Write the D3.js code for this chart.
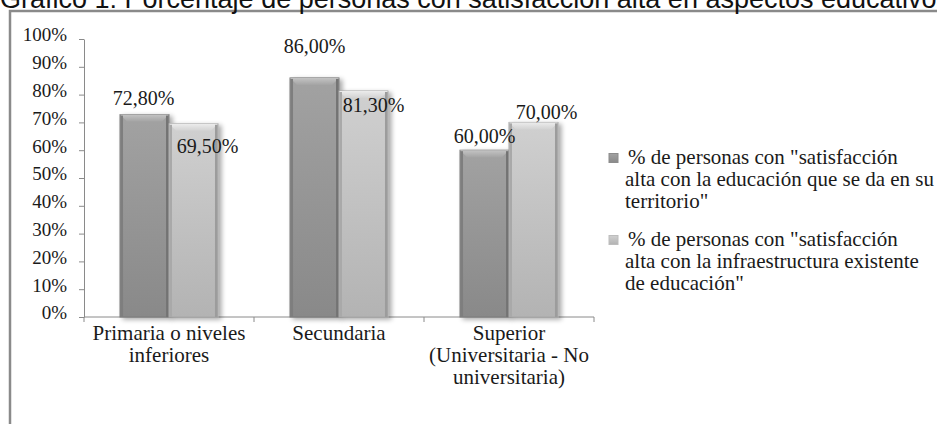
<!DOCTYPE html>
<html>
<head>
<meta charset="utf-8">
<title>grafico 1</title>
<style>
  body { margin: 0; background: #fff; overflow: hidden; }
  text { font-family: "Liberation Serif", "Times New Roman", Times, "DejaVu Serif", "Noto Serif", serif; fill: #1a1a1a; }
</style>
</head>
<body>
<svg width="937" height="424"></svg>
<script src="https://d3js.org/d3.v7.min.js"></script>
<script>

    var title = "Gráfico 1: Porcentaje de personas con satisfacción alta en aspectos educativos";

    var categories = [
        ["Primaria o niveles", "inferiores"],
        ["Secundaria"],
        ["Superior", "(Universitaria - No", "universitaria)"]
    ];

    var seriesNames = [
        ["% de personas con \"satisfacción", "alta con la educación que se da en su", "territorio\""],
        ["% de personas con \"satisfacción", "alta con la infraestructura existente", "de educación\""]
    ];

    var educacion = [0.728, 0.86, 0.60];
    var infraestructura = [0.695, 0.813, 0.70];

    var yTicks = [0, 0.1, 0.2, 0.3, 0.4, 0.5, 0.6, 0.7, 0.8, 0.9, 1];

    // where excel dropped each data label, relative to the top centre of its bar
    var labelNudge = [
        [[-1, -10], [14, 29]],
        [[0, -25], [10, 21]],
        [[0, -7], [13, -3]]
    ];

    var serif = "'Liberation Serif', 'Times New Roman', Times, 'DejaVu Serif', serif";

    var svg = d3.select("svg"),
        margin = { left: 84, right: 343, top: 39, bottom: 107 },
        width = +svg.attr("width") - margin.left - margin.right,
        height = +svg.attr("height") - margin.top - margin.bottom;

    var defs = svg.append("defs");

    function grad(id, top, bottom) {
        var g = defs.append("linearGradient").attr("id", id)
            .attr("x1", 0).attr("y1", 0).attr("x2", 0).attr("y2", 1);
        g.append("stop").attr("offset", "0%").attr("stop-color", top);
        g.append("stop").attr("offset", "100%").attr("stop-color", bottom);
    }
    grad("body0", "#a2a2a2", "#898989");
    grad("body1", "#d0d0d0", "#b3b3b3");
    grad("cap0", "#c4c4c4", "#a4a4a4");
    grad("cap1", "#ececec", "#d2d2d2");

    var shadow = defs.append("filter").attr("id", "shadow")
        .attr("x", "-20%").attr("y", "-10%").attr("width", "150%").attr("height", "130%");
    shadow.append("feGaussianBlur").attr("in", "SourceAlpha").attr("stdDeviation", 2.5);
    shadow.append("feOffset").attr("dx", 3).attr("dy", 2).attr("result", "b");
    shadow.append("feComponentTransfer").append("feFuncA").attr("type", "linear").attr("slope", 0.35);
    var merge = shadow.append("feMerge");
    merge.append("feMergeNode");
    merge.append("feMergeNode").attr("in", "SourceGraphic");

    // chart border, cut off by the page on the right and at the bottom
    svg.append("rect")
        .attr("x", 10).attr("y", 11)
        .attr("width", 960).attr("height", 440)
        .attr("fill", "none")
        .attr("stroke", "#8a8a8a")
        .attr("stroke-width", 2.5);

    svg.append("text")
        .attr("x", 0).attr("y", 8)
        .style("font-family", "'Liberation Sans', Arial, sans-serif")
        .style("font-size", "27px")
        .style("fill", "#111")
        .text(title);

    var g = svg.append("g").attr("transform", "translate(" + margin.left + "," + margin.top + ")");

    var x0 = d3.scaleBand()
        .domain(d3.range(categories.length))
        .range([0, width]);

    var x1 = d3.scaleBand()
        .domain([0, 1])
        .range([0, x0.bandwidth()])
        .paddingOuter(0.735);

    var y = d3.scaleLinear()
        .domain([0, 1])
        .range([height, 0]);

    var yAxis = g.append("g")
        .call(d3.axisLeft(y).tickValues(yTicks).tickFormat(d3.format(".0%")).tickSize(5).tickSizeOuter(0).tickPadding(12));
    yAxis.attr("font-family", null);
    yAxis.select(".domain").attr("stroke", "#8a8a8a");
    yAxis.selectAll(".tick line").attr("stroke", "#8a8a8a");
    yAxis.selectAll(".tick text")
        .attr("dy", "0.1em")
        .style("font-family", serif)
        .style("font-size", "19px")
        .style("fill", "#1a1a1a");

    // x axis: base line with marks on the category boundaries
    g.append("line")
        .attr("x1", 0).attr("x2", width)
        .attr("y1", height).attr("y2", height)
        .attr("stroke", "#8a8a8a");
    var bounds = x0.domain().map(function (d) { return x0(d); }).concat([width]);
    g.selectAll(".xtick").data(bounds).enter().append("line")
        .attr("x1", function (d) { return d; }).attr("x2", function (d) { return d; })
        .attr("y1", height).attr("y2", height + 5)
        .attr("stroke", "#8a8a8a");

    g.selectAll(".cat").data(categories).enter().append("text")
        .attr("text-anchor", "middle")
        .attr("transform", function (d, i) { return "translate(" + (x0(i) + x0.bandwidth() / 2) + "," + (height + 23) + ")"; })
        .style("font-family", serif)
        .style("font-size", "21px")
        .each(function (lines) {
            d3.select(this).selectAll("tspan").data(lines).enter().append("tspan")
                .attr("x", 0)
                .attr("y", function (l, j) { return j * 22; })
                .text(function (l) { return l; });
        });

    var rows = categories.map(function (c, i) {
        return [educacion[i], infraestructura[i]];
    });

    var bev = 7;
    var group = g.selectAll(".grp").data(rows).enter().append("g")
        .attr("transform", function (d, i) { return "translate(" + x0(i) + ",0)"; });

    var bar = group.selectAll(".bar").data(function (d) { return d; }).enter().append("g")
        .attr("filter", "url(#shadow)");

    bar.append("rect")
        .attr("x", function (d, s) { return x1(s); })
        .attr("y", function (d) { return y(d); })
        .attr("width", x1.bandwidth())
        .attr("height", function (d) { return height - y(d); })
        .attr("fill", function (d, s) { return "url(#body" + s + ")"; })
        .attr("stroke", function (d, s) { return s ? "#a6a6a6" : "#7a7a7a"; })
        .attr("stroke-width", 1);

    // bevel: lighter cap and darker side edges
    bar.append("path")
        .attr("d", function (d, s) {
            var a = x1(s), b = a + x1.bandwidth(), t = y(d);
            return "M" + a + "," + t + "L" + b + "," + t + "L" + (b - bev) + "," + (t + bev) + "L" + (a + bev) + "," + (t + bev) + "Z";
        })
        .attr("fill", function (d, s) { return "url(#cap" + s + ")"; });
    bar.append("rect")
        .attr("x", function (d, s) { return x1(s) + 0.5; })
        .attr("y", function (d) { return y(d) + 1; })
        .attr("width", 2.5)
        .attr("height", function (d) { return height - y(d) - 1; })
        .attr("fill", function (d, s) { return s ? "#a9a9a9" : "#7e7e7e"; });
    bar.append("rect")
        .attr("x", function (d, s) { return x1(s) + x1.bandwidth() - 3; })
        .attr("y", function (d) { return y(d) + 1; })
        .attr("width", 2.5)
        .attr("height", function (d) { return height - y(d) - 1; })
        .attr("fill", function (d, s) { return s ? "#9c9c9c" : "#747474"; });

    group.selectAll(".lbl").data(function (d) { return d; }).enter().append("text")
        .attr("text-anchor", "middle")
        .attr("x", function (d, s) {
            var i = rows.indexOf(d3.select(this.parentNode).datum());
            return x1(s) + x1.bandwidth() / 2 + labelNudge[i][s][0];
        })
        .attr("y", function (d, s) {
            var i = rows.indexOf(d3.select(this.parentNode).datum());
            return y(d) + labelNudge[i][s][1];
        })
        .style("font-family", serif)
        .style("font-size", "20px")
        .text(function (d) { return d3.format(".2f")(d * 100).replace(".", ",") + "%"; });

    // legend
    var legend = svg.append("g").attr("transform", "translate(609,0)");
    var item = legend.selectAll(".item").data(seriesNames).enter().append("g")
        .attr("transform", function (d, s) { return "translate(0," + (158 + s * 82) + ")"; });
    item.append("rect")
        .attr("x", 0).attr("y", -4.5)
        .attr("width", 9).attr("height", 9)
        .attr("fill", function (d, s) { return "url(#body" + s + ")"; })
        .attr("stroke", function (d, s) { return s ? "#bdbdbd" : "#8c8c8c"; });
    item.append("text")
        .style("font-family", serif)
        .style("font-size", "21px")
        .each(function (lines) {
            d3.select(this).selectAll("tspan").data(lines).enter().append("tspan")
                .attr("x", function (l, j) { return j ? 16 : 19; })
                .attr("y", function (l, j) { return 6 + j * 22; })
                .text(function (l) { return l; });
        });

</script>
</body>
</html>
